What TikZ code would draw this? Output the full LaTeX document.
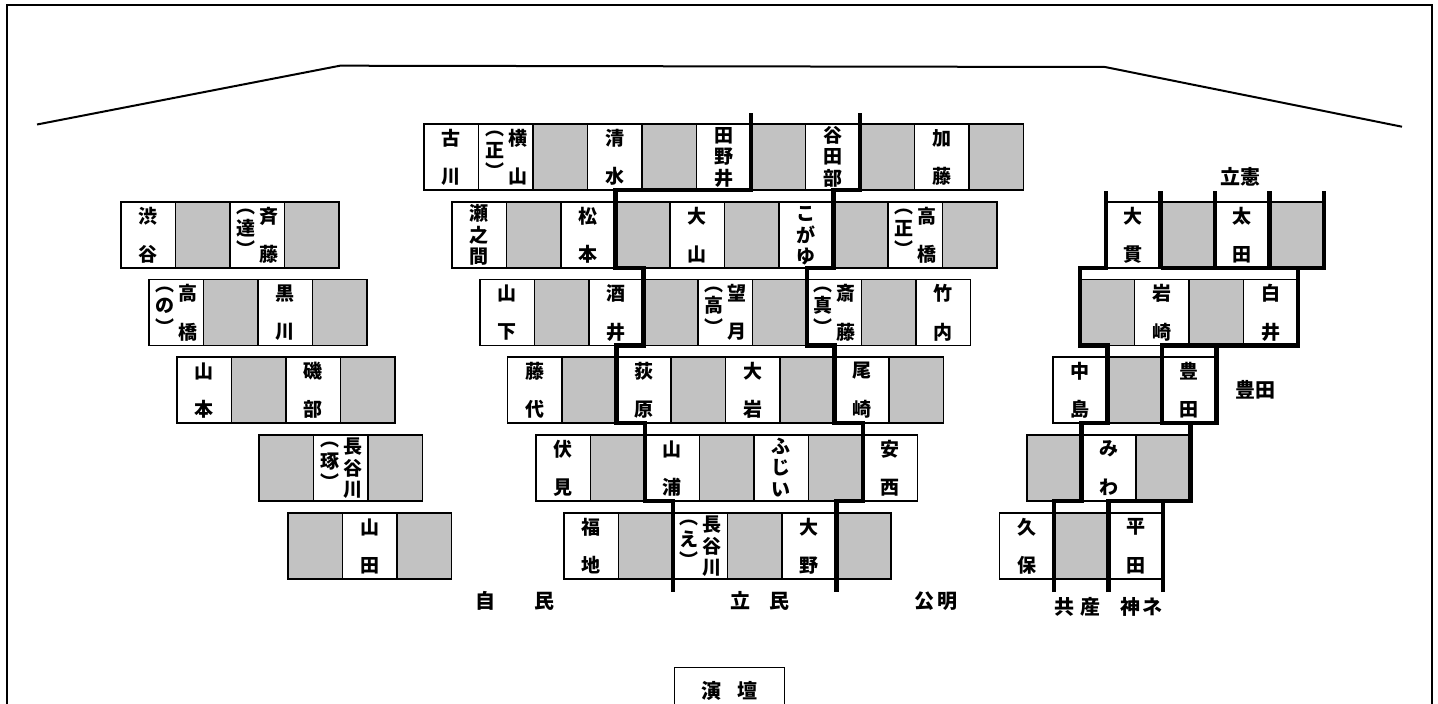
\documentclass[tikz,border=0pt]{standalone}
\usepackage{fontspec}
\newfontfamily\jp{Noto Sans CJK JP}
\usetikzlibrary{calc}
\definecolor{seatgray}{gray}{0.76}
\newcommand\seatw{54.5}
\tikzset{
  seat/.style={draw,line width=1.3pt,minimum width=54.5pt,minimum height=66pt,inner sep=0pt,outer sep=0pt,anchor=north west},
  wseat/.style={fill=white},
  gseat/.style={fill=seatgray},
  nm/.style={inner sep=0pt,font=\jp\bfseries\fontsize{19}{21}\selectfont},
  paren/.style={inner sep=0pt,align=center,font=\jp\bfseries\fontsize{19}{21.5}\selectfont},
  lab/.style={inner sep=0pt,font=\jp\bfseries\fontsize{20}{22}\selectfont},
  party/.style={line width=4.2pt},
}
\newcommand\seatrow[4]{\foreach \s [count=\i from 0] in {#4}{\node[seat,\s] (#1-\i) at ({#2+\seatw*\i},#3) {};}}
\newcommand\nametwo[3]{%
  \node[nm] (#1-t) at ($(#1.north)+(0,14)$) {#2};
  \node[nm] (#1-b) at ($(#1.south)+(0,-13.5)$) {#3};}
\newcommand\namethree[4]{%
  \node[nm] (#1-t) at ($(#1.center)+(0,-21.5)$) {#2};
  \node[nm] (#1-m) at (#1.center) {#3};
  \node[nm] (#1-b) at ($(#1.center)+(0,21.5)$) {#4};}
\newcommand\nameparen[4]{%
  \node[nm] (#1-t) at ($(#1.north)+(12,14)$) {#2};
  \node[nm] (#1-b) at ($(#1.south)+(12,-13.5)$) {#3};
  \node[paren] (#1-p) at ($(#1.center)+(-11,-2)$) {︵\\#4\\︶};}
\newcommand\namelong[5]{%
  \node[nm] (#1-t) at ($(#1.center)+(12,-21.5)$) {#2};
  \node[nm] (#1-m) at ($(#1.center)+(12,0)$) {#3};
  \node[nm] (#1-b) at ($(#1.center)+(12,21.5)$) {#4};
  \node[paren] (#1-p) at ($(#1.center)+(-11,-2)$) {︵\\#5\\︶};}
\begin{document}
\begin{tikzpicture}[x=1pt,y=-1pt]
\useasboundingbox (0,0) rectangle (1438,704);
\draw[line width=2.5pt] (7,712) -- (7,5) -- (1432,5) -- (1432,712);
\draw[line width=2pt] (37,124.5) -- (340,65.7) -- (1105,67) -- (1402,126.7);
\seatrow{a0}{424}{124}{wseat,wseat,gseat,wseat,gseat,wseat,gseat,wseat,gseat,wseat,gseat}
\seatrow{a1}{452}{202}{wseat,gseat,wseat,gseat,wseat,gseat,wseat,gseat,wseat,gseat}
\seatrow{a2}{480}{279.5}{wseat,gseat,wseat,gseat,wseat,gseat,wseat,gseat,wseat}
\seatrow{a3}{507.5}{357}{wseat,gseat,wseat,gseat,wseat,gseat,wseat,gseat}
\seatrow{a4}{536}{435}{wseat,gseat,wseat,gseat,wseat,gseat,wseat}
\seatrow{a5}{564}{513}{wseat,gseat,wseat,gseat,wseat,gseat}
\seatrow{b1}{121}{202}{wseat,gseat,wseat,gseat}
\seatrow{b2}{149}{279.5}{wseat,gseat,wseat,gseat}
\seatrow{b3}{177}{357}{wseat,gseat,wseat,gseat}
\seatrow{b4}{259}{435}{gseat,wseat,gseat}
\seatrow{b5}{288}{513}{gseat,wseat,gseat}
\seatrow{d1}{1106}{202}{wseat,gseat,wseat,gseat}
\seatrow{d2}{1080}{279.5}{gseat,wseat,gseat,wseat}
\seatrow{d3}{1053}{357}{wseat,gseat,wseat}
\seatrow{d4}{1027}{435}{gseat,wseat,gseat}
\seatrow{d5}{999.5}{513}{wseat,gseat,wseat}
\draw[party] ($(a0-6.north west)+(0,-11)$) -- (a0-6.south west) -| (a1-3.south west) -| (a2-3.south west) -| (a3-2.south west) -| (a4-2.south west) -| ($(a5-2.south west)+(0,13)$);
\draw[party] ($(a0-8.north west)+(0,-11)$) -- (a0-8.south west) -| (a1-7.south west) -| (a2-6.south west) -| (a3-6.south west) -| (a4-6.south west) -| ($(a5-5.south west)+(0,13)$);
\draw[party] ($(d5-1.south west)+(0,13)$) |- (d4-1.south west) |- (d3-1.south west) |- (d2-0.south west) |- (d1-0.south west) -- ($(d1-0.north west)+(0,-11)$);
\draw[party] ($(d5-2.south west)+(0,13)$) |- (d4-2.south east) |- (d3-2.south east) |- (d2-3.south east) |- (d1-3.south east) -- ($(d1-3.north east)+(0,-11)$);
\draw[party] ($(d5-2.south east)+(0,13)$) -- (d5-2.south east |- d4-2.south);
\draw[party] (d3-2.south east) -- (d3-2.south west) -- (d3-2.west |- d2-3.south) -- (d2-3.south east);
\draw[party] (d1-1.south west) -- (d1-3.south east);
\foreach \i in {1,2,3} \draw[party] ($(d1-\i.north west)+(0,-11)$) -- (d1-\i.south west);
\nametwo{a0-0}{古}{川}
\nameparen{a0-1}{横}{山}{正}
\nametwo{a0-3}{清}{水}
\namethree{a0-5}{田}{野}{井}
\namethree{a0-7}{谷}{田}{部}
\nametwo{a0-9}{加}{藤}
\namethree{a1-0}{瀬}{之}{間}
\nametwo{a1-2}{松}{本}
\nametwo{a1-4}{大}{山}
\namethree{a1-6}{こ}{が}{ゆ}
\nameparen{a1-8}{高}{橋}{正}
\nametwo{a2-0}{山}{下}
\nametwo{a2-2}{酒}{井}
\nameparen{a2-4}{望}{月}{高}
\nameparen{a2-6}{斎}{藤}{真}
\nametwo{a2-8}{竹}{内}
\nametwo{a3-0}{藤}{代}
\nametwo{a3-2}{荻}{原}
\nametwo{a3-4}{大}{岩}
\nametwo{a3-6}{尾}{崎}
\nametwo{a4-0}{伏}{見}
\nametwo{a4-2}{山}{浦}
\namethree{a4-4}{ふ}{じ}{い}
\nametwo{a4-6}{安}{西}
\nametwo{a5-0}{福}{地}
\namelong{a5-2}{長}{谷}{川}{え}
\nametwo{a5-4}{大}{野}
\nametwo{b1-0}{渋}{谷}
\nameparen{b1-2}{斉}{藤}{達}
\nameparen{b2-0}{高}{橋}{の}
\nametwo{b2-2}{黒}{川}
\nametwo{b3-0}{山}{本}
\nametwo{b3-2}{磯}{部}
\namelong{b4-1}{長}{谷}{川}{琢}
\nametwo{b5-1}{山}{田}
\nametwo{d1-0}{大}{貫}
\nametwo{d1-2}{太}{田}
\nametwo{d2-1}{岩}{崎}
\nametwo{d2-3}{白}{井}
\nametwo{d3-0}{中}{島}
\nametwo{d3-2}{豊}{田}
\nametwo{d4-1}{み}{わ}
\nametwo{d5-0}{久}{保}
\nametwo{d5-2}{平}{田}
\node[lab] (jimin) at (515,601) {自\hspace{39pt}民};
\node[lab] (rikmin) at (760,601) {立\hspace{19pt}民};
\node[lab] (komei) at (936,601) {公\hspace{3pt}明};
\node[lab] (kyosan) at (1077,607) {共\hspace{6pt}産};
\node[lab] (kanet) at (1141,607) {神\hspace{2pt}ネ};
\node[lab] (rikken) at (1240,177) {立憲};
\node[lab] (toyoda) at (1255,390) {豊田};
\node[lab,draw,line width=1.3pt,minimum width=110pt,minimum height=46pt,anchor=north west] (podium) at (674,667) {演\hspace{16pt}壇};
\end{tikzpicture}
\end{document}
